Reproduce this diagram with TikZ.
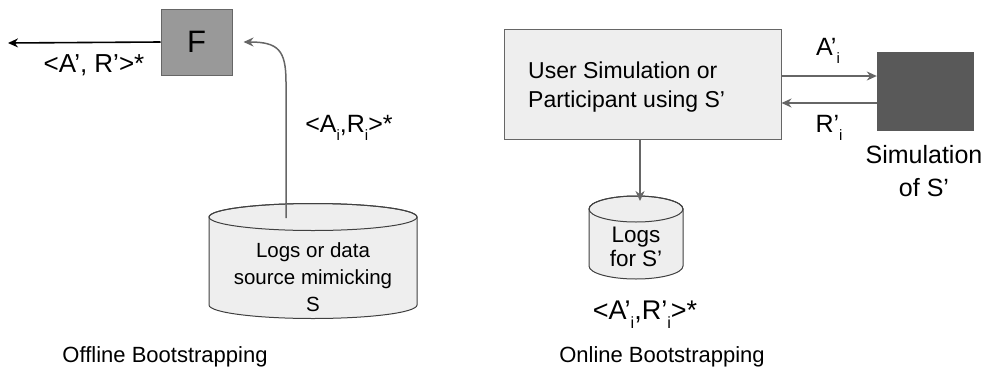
\documentclass[tikz,border=0pt]{standalone}
\usepackage{fontspec}
\setmainfont{Liberation Sans}
\usepackage{graphicx}
\usetikzlibrary{arrows.meta}
\definecolor{lineg}{HTML}{666666}
\definecolor{fillF}{HTML}{999999}
\definecolor{lightbox}{HTML}{EEEEEE}
\definecolor{darkbox}{HTML}{595959}
\newcommand{\isub}[1]{\raisebox{-0.32em}{\scalebox{0.6}{#1}}}
\newcommand{\fs}[2]{\fontsize{#1}{#2}\selectfont}
\tikzset{
  garrow/.style={draw=lineg, line width=1.5pt, -{Stealth[length=10pt,width=9pt]}},
  barrow/.style={draw=black, line width=1.6pt, -{Stealth[length=10pt,width=9pt]}},
  lbl/.style={inner sep=0pt, text=black},
  cylfill/.style={fill=lightbox, draw=black!75, line width=1pt},
}
\begin{document}
\begin{tikzpicture}[x=1pt,y=-1pt]
\useasboundingbox (0,0) rectangle (985,381);
% ---------- Offline ----------
\node[draw=lineg, fill=fillF, line width=1pt, minimum width=71pt, minimum height=66pt, inner sep=0pt,
      font=\fs{31}{36}] (F) at (196.5,42) {F};
\coordinate (outF) at (8,43);
\draw[barrow] (F.west) -- (outF);
\node[lbl, font=\fs{26}{30}] (lblout) at (94,65) {<A’, R’>*};

% left cylinder
\path[cylfill] (209,217) -- (209,305) arc[start angle=180,end angle=0,x radius=104,y radius=13.5]
  -- (417,217) arc[start angle=0,end angle=-180,x radius=104,y radius=13.5] -- cycle;
\draw[draw=black!75, line width=1pt] (313,217) ellipse [x radius=104, y radius=13.5];
\node[lbl, align=center, font=\fs{20.5}{27}] (logs) at (313,277) {Logs or data\\source mimicking\\S};
\coordinate (logsTop) at (286,218);
\draw[garrow] (logsTop) -- (286,82) .. controls (286,50) and (278,42) .. ([xshift=11pt]F.east);
\node[lbl, font=\fs{25}{28}] (lblAR) at (349,128) {<A\isub{i},R\isub{i}>*};

\node[lbl, font=\fs{22}{26}] (off) at (165,357) {Offline Bootstrapping};

% ---------- Online ----------
\node[draw=lineg, fill=lightbox, line width=1pt, minimum width=277pt, minimum height=110pt, inner sep=0pt] (user) at (642.5,84) {};
\node[lbl, anchor=west, align=left, font=\fs{23}{29}] (usertxt) at (528,87) {User Simulation or\\Participant using S’};
\node[draw=darkbox, fill=darkbox, minimum width=96pt, minimum height=78pt, inner sep=0pt] (sim) at (925,91) {};
\draw[garrow] (user.east |- 0,76) -- (sim.west |- 0,76);
\draw[garrow] (sim.west |- 0,103) -- (user.east |- 0,103);
\node[lbl, font=\fs{25}{28}] (lblA) at (828,51) {A’\isub{i}};
\node[lbl, font=\fs{25}{28}] (lblR) at (829,128) {R’\isub{i}};
\node[lbl, align=center, font=\fs{25}{33}] (simtxt) at (924,171) {Simulation\\of S’};

% small cylinder
\path[cylfill] (589,209) -- (589,266) arc[start angle=180,end angle=0,x radius=47,y radius=13]
  -- (683,209) arc[start angle=0,end angle=-180,x radius=47,y radius=13] -- cycle;
\draw[draw=black!75, line width=1pt] (636,209) ellipse [x radius=47, y radius=13];
\node[lbl, align=center, font=\fs{22.5}{24}] (logs2) at (636,247) {Logs\\for S’};
\coordinate (logs2Top) at (640,201);
\draw[garrow] (user.south -| logs2Top) -- (logs2Top);
\node[lbl, font=\fs{27}{30}] (lblAR2) at (645,315) {<A’\isub{i},R’\isub{i}>*};

\node[lbl, font=\fs{22}{26}] (on) at (662,357) {Online Bootstrapping};
\end{tikzpicture}
\end{document}
